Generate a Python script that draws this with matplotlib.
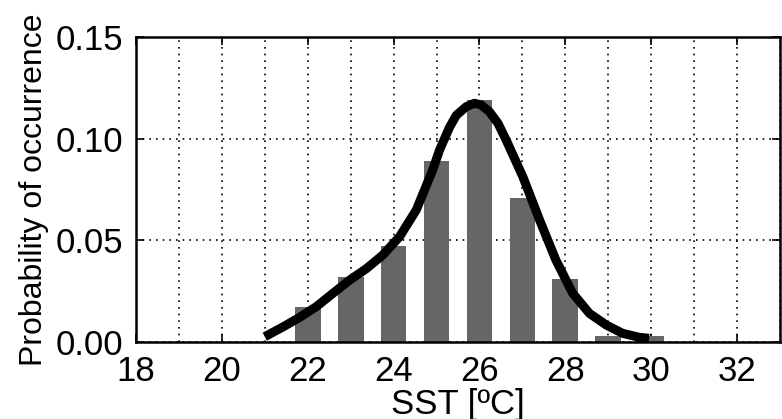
import numpy as np
import matplotlib.pyplot as plt
from matplotlib.ticker import MultipleLocator

plt.rcParams['font.family'] = ['Liberation Sans', 'DejaVu Sans']

# histogram bars
sst_bins = [22, 23, 24, 25, 26, 27, 28, 29, 30]
prob = [0.017, 0.032, 0.047, 0.089, 0.119, 0.071, 0.031, 0.003, 0.003]

# fitted curve
curve_x = [21.0, 21.43, 21.81, 22.2, 22.59, 22.98, 23.36, 23.75, 24.14, 24.53,
           24.91, 25.07, 25.3, 25.46, 25.69, 25.88, 26.04, 26.23, 26.43, 26.62,
           27.01, 27.4, 27.78, 28.17, 28.56, 28.95, 29.33, 29.72, 29.95]
curve_y = [0.0026, 0.0075, 0.0121, 0.0174, 0.024, 0.0305, 0.036, 0.0428, 0.0518, 0.065,
           0.0846, 0.0944, 0.1055, 0.1115, 0.1157, 0.1174, 0.1166, 0.1133, 0.1076, 0.0994,
           0.0813, 0.060, 0.0403, 0.024, 0.0141, 0.0084, 0.0043, 0.0023, 0.0018]


def main():
    fig = plt.figure(figsize=(7.82, 4.19), dpi=100)
    ax = fig.add_axes([136 / 782, 77 / 419, 644 / 782, 305 / 419])

    ax.bar(sst_bins, prob, width=0.6, color="#666666", zorder=2)
    ax.plot(curve_x, curve_y, color="black", lw=6.5, solid_joinstyle="round",
            solid_capstyle="butt", zorder=3)

    ax.set_xlim(18, 33)
    ax.set_ylim(0, 0.15)
    ax.xaxis.set_major_locator(MultipleLocator(2))
    ax.xaxis.set_minor_locator(MultipleLocator(1))
    ax.set_yticks([0, 0.05, 0.10, 0.15])
    ax.set_yticklabels(["0.00", "0.05", "0.10", "0.15"])

    ax.grid(True, which="both", axis="x", ls=(0, (1, 3)), color="black", lw=1.2, zorder=1)
    ax.grid(True, which="major", axis="y", ls=(0, (1, 3)), color="black", lw=1.2, zorder=1)
    ax.set_axisbelow(True)

    ax.tick_params(which="major", direction="in", length=6, width=1.2,
                   top=True, right=True, labelsize=25, pad=9)
    ax.tick_params(which="minor", length=0)
    for s in ax.spines.values():
        s.set_linewidth(1.8)

    ax.set_xlabel("SST [ºC]", fontsize=25, labelpad=0)
    ax.set_ylabel("Probability of occurrence", fontsize=23, labelpad=5)

    fig.savefig("out.png", dpi=100)


if __name__ == "__main__":
    main()
